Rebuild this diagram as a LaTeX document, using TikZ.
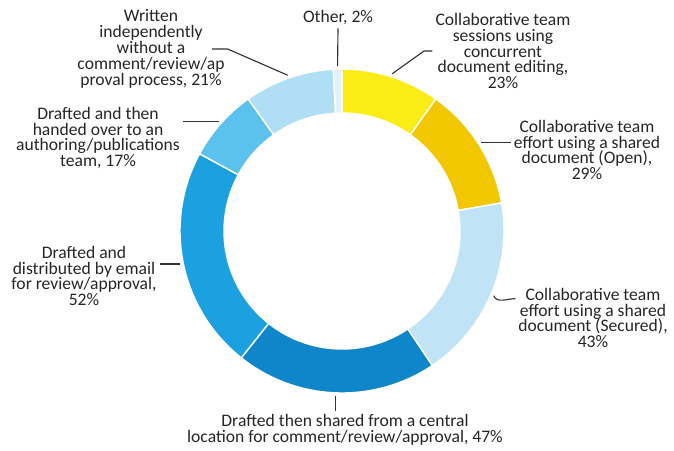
\documentclass[tikz,border=0pt]{standalone}
\usepackage{fontspec}
\setmainfont{Carlito}
\usetikzlibrary{calc}

\definecolor{sessfill}{HTML}{FBEC16}
\definecolor{openfill}{HTML}{F2C700}
\definecolor{securedfill}{HTML}{C0E4F6}
\definecolor{centralfill}{HTML}{0F86C9}
\definecolor{emailfill}{HTML}{1CA1E0}
\definecolor{handedfill}{HTML}{5BC2ED}
\definecolor{writtenfill}{HTML}{B0DFF5}
\definecolor{otherfill}{HTML}{E2F2FA}

\tikzset{
  lbl/.style={align=center, text=black!85, inner sep=2pt, font=\fontsize{12.5}{11.3}\selectfont},
  lead/.style={draw=black!80, line width=0.8pt}
}

\begin{document}
\begin{tikzpicture}[x=0.025cm,y=0.025cm]
\useasboundingbox (0,0) rectangle (674,450);
\coordinate (c) at (342,219);

\foreach \a/\b/\col/\n in {90/54.62/sessfill/1, 54.62/10/openfill/2, 10/-56.15/securedfill/3, -56.15/-128.46/centralfill/4, -128.46/-208.46/emailfill/5, -208.46/-234.62/handedfill/6, -234.62/-266.92/writtenfill/7, -266.92/-270/otherfill/8}{
  \fill[\col, draw=white, line width=1pt] ($(c)+(\a:162)$) arc[start angle=\a, end angle=\b, radius=162] -- ($(c)+(\b:118)$) arc[start angle=\b, end angle=\a, radius=118] -- cycle;
  \pgfmathsetmacro\m{(\a+\b)/2}
  \coordinate (tip\n) at ($(c)+(\m:165)$);
}

\node[lbl] (other) at (338,432) {Other, 2\%};
\node[lbl] (sess) at (503,399) {Collaborative team\\sessions using\\concurrent\\document editing,\\23\%};
\node[lbl] (open) at (587,300) {Collaborative team\\effort using a shared\\document (Open),\\29\%};
\node[lbl] (secured) at (593,132) {Collaborative team\\effort using a shared\\document (Secured),\\43\%};
\node[lbl] (central) at (345,20) {Drafted then shared from a central\\location for comment/review/approval, 47\%};
\node[lbl] (email) at (84,174) {Drafted and\\distributed by email\\for review/approval,\\52\%};
\node[lbl] (handed) at (98,312) {Drafted and then\\handed over to an\\authoring/publications\\team, 17\%};
\node[lbl] (written) at (151,401) {Written\\independently\\without a\\comment/review/ap\\proval process, 21\%};

\draw[lead] (other.south) -- (tip8);
\draw[lead] (tip1) -- ([xshift=-6pt]sess.west) -- (sess.west);
\draw[lead] (tip2) -- (tip2 -| open.west);
\draw[lead] (tip3) to[out=-70,in=180] ($(tip3 -| secured.west)+(0,-3)$);
\draw[lead] (tip4) -- (tip4 |- central.north);
\draw[lead] (tip5) -- (tip5 -| email.east);
\draw[lead] (tip6) -- (tip6 -| handed.east);
\draw[lead] (tip7) -- (written.east) -- ([xshift=-11pt]written.east);
\end{tikzpicture}
\end{document}
